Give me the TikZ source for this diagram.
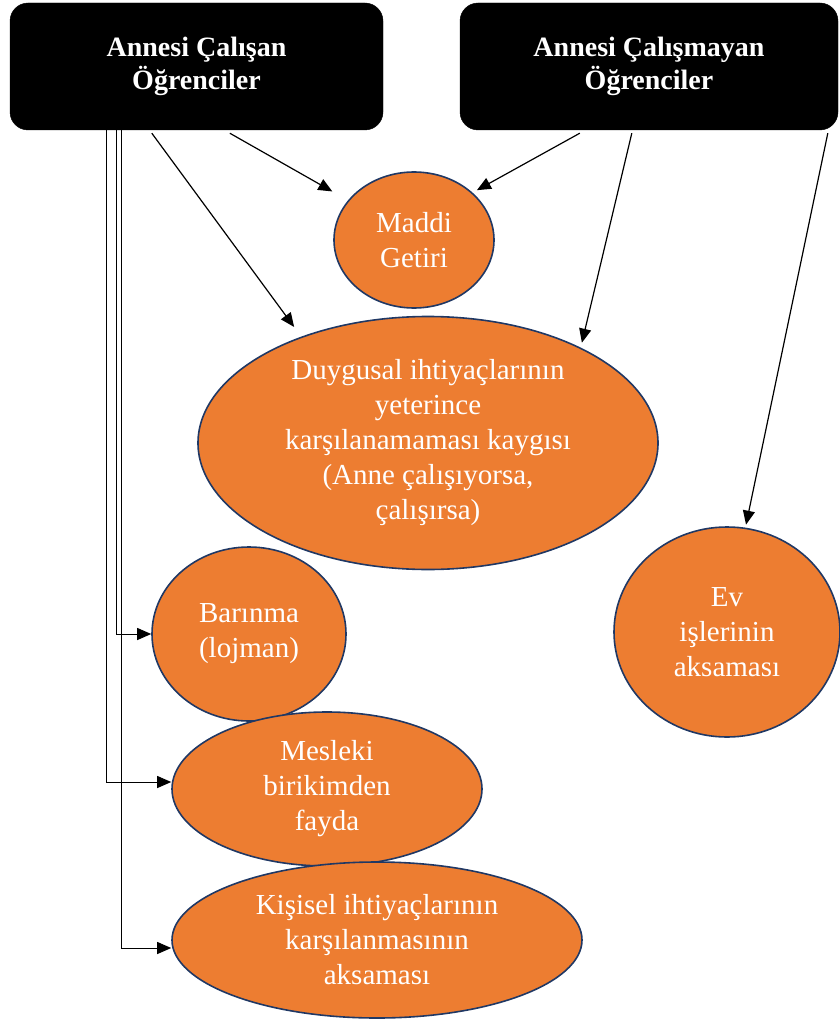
\documentclass[tikz,border=0pt]{standalone}
\usepackage{fontspec}
\setmainfont{Liberation Serif}
\usetikzlibrary{arrows.meta,shapes.geometric,calc}
\definecolor{boxorange}{HTML}{ED7D31}
\definecolor{rimblue}{HTML}{203864}

\begin{document}
\begin{tikzpicture}[x=1pt,y=-1pt]

  \tikzstyle{group}=[draw=black, fill=black, rounded corners=18pt, text=white, font=\fontsize{28}{33}\selectfont\bfseries, align=center, minimum height=127pt, inner sep=0pt]
  \tikzstyle{topic}=[ellipse, draw=rimblue, line width=1.6pt, fill=boxorange, text=white, font=\fontsize{29}{35}\selectfont, align=center, inner sep=0pt]
  \tikzstyle{dep}=[draw=black, line width=1.2pt, -{Triangle[length=14pt,width=12pt]}]
  \tikzstyle{feed}=[draw=black, line width=1pt, -{Triangle[length=14pt,width=12pt]}]

  \useasboundingbox (0,0) rectangle (839,1030);

  % the two groups of students
  \node [group, minimum width=373pt] (LB) at (196.5,66.5) {Annesi Çalışan\\Öğrenciler};
  \node [group, minimum width=378pt] (RB) at (649,66.5) {Annesi Çalışmayan\\Öğrenciler};

  % themes
  \node [topic, minimum width=160pt, minimum height=136pt] (MG) at (414,240) {Maddi\\Getiri};
  \node [topic, minimum width=194pt, minimum height=174pt] (BL) at (249,634) {Barınma\\(lojman)};
  \node [topic, minimum width=460pt, minimum height=253pt] (DI) at (428,443) {Duygusal ihtiyaçlarının\\yeterince\\karşılanamaması kaygısı\\(Anne çalışıyorsa,\\çalışırsa)};
  \node [topic, minimum width=310pt, minimum height=154pt] (MB) at (327,789) {Mesleki\\birikimden\\fayda};
  \node [topic, minimum width=410pt, minimum height=156pt] (KI) at (377,940) {Kişisel ihtiyaçlarının\\karşılanmasının\\aksaması};
  \node [topic, minimum width=226pt, minimum height=210pt] (EV) at (727,632) {Ev\\işlerinin\\aksaması};

  \draw [dep,shorten >=18pt] ($(LB.south west)+(220,3)$) -- (MG.149);
  \draw [dep,shorten >=12pt] ($(LB.south west)+(142,3)$) -- (DI.140);
  \draw [dep,shorten >=5pt] ($(RB.south west)+(120,3)$) -- (MG.39);
  \draw [dep,shorten >=5pt] ($(RB.south west)+(172,3)$) -- (DI.32);
  \draw [dep,shorten >=3pt] ($(RB.south west)+(368,3)$) -- (EV.80);

  \draw [feed] ($(LB.south west)+(107,0)$) |- (BL.west);
  \draw [feed] ($(LB.south west)+(97,0)$) |- ([yshift=7pt]MB.west);
  \draw [feed] ($(LB.south west)+(112,0)$) |- ([yshift=-8pt]KI.west);
\end{tikzpicture}
\end{document}
